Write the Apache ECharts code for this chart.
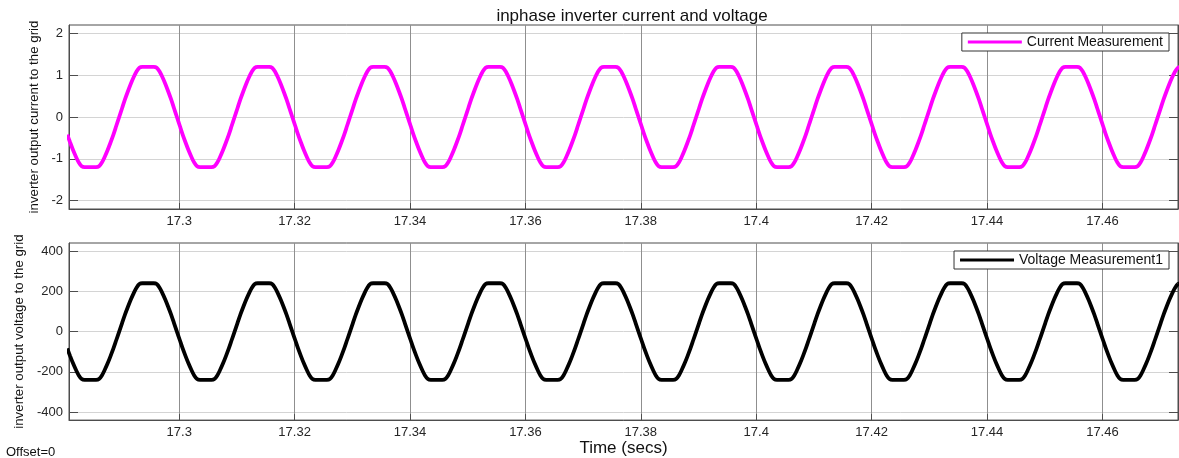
<!DOCTYPE html>
<html>
<head>
<meta charset="utf-8">
<script src="https://cdn.jsdelivr.net/npm/echarts@6/dist/echarts.min.js"></script>
<style>
html,body{margin:0;padding:0;background:#fff;}
#chart{width:1179px;height:458px;}
</style>
</head>
<body>
<div id="chart"></div>
<script>
// sampling grid of the read-off waveforms (seconds)
var T0 = 17.2806;
var DT = 0.0005;

// inverter output current (A), one value per sample
var currentValues = [
  -0.42, -0.61, -0.79, -0.95, -1.09, -1.18, -1.2, -1.2, -1.2, -1.2, -1.2, -1.18, -1.09, -0.95, -0.79, -0.61, -0.42, -0.21, 0, 0.21, 0.42, 0.61, 0.79, 0.95, 1.09, 1.18, 1.2, 1.2,
  1.2, 1.2, 1.2, 1.18, 1.09, 0.95, 0.79, 0.61, 0.42, 0.21, 0, -0.21, -0.42, -0.61, -0.79, -0.95, -1.09, -1.18, -1.2, -1.2, -1.2, -1.2, -1.2, -1.18, -1.09, -0.95, -0.79, -0.61, -0.42, -0.21, 0, 0.21, 0.42, 0.61, 0.79, 0.95, 1.09, 1.18, 1.2, 1.2,
  1.2, 1.2, 1.2, 1.18, 1.09, 0.95, 0.79, 0.61, 0.42, 0.21, 0, -0.21, -0.42, -0.61, -0.79, -0.95, -1.09, -1.18, -1.2, -1.2, -1.2, -1.2, -1.2, -1.18, -1.09, -0.95, -0.79, -0.61, -0.42, -0.21, 0, 0.21, 0.42, 0.61, 0.79, 0.95, 1.09, 1.18, 1.2, 1.2,
  1.2, 1.2, 1.2, 1.18, 1.09, 0.95, 0.79, 0.61, 0.42, 0.21, 0, -0.21, -0.42, -0.61, -0.79, -0.95, -1.09, -1.18, -1.2, -1.2, -1.2, -1.2, -1.2, -1.18, -1.09, -0.95, -0.79, -0.61, -0.42, -0.21, 0, 0.21, 0.42, 0.61, 0.79, 0.95, 1.09, 1.18, 1.2, 1.2,
  1.2, 1.2, 1.2, 1.18, 1.09, 0.95, 0.79, 0.61, 0.42, 0.21, 0, -0.21, -0.42, -0.61, -0.79, -0.95, -1.09, -1.18, -1.2, -1.2, -1.2, -1.2, -1.2, -1.18, -1.09, -0.95, -0.79, -0.61, -0.42, -0.21, 0, 0.21, 0.42, 0.61, 0.79, 0.95, 1.09, 1.18, 1.2, 1.2,
  1.2, 1.2, 1.2, 1.18, 1.09, 0.95, 0.79, 0.61, 0.42, 0.21, 0, -0.21, -0.42, -0.61, -0.79, -0.95, -1.09, -1.18, -1.2, -1.2, -1.2, -1.2, -1.2, -1.18, -1.09, -0.95, -0.79, -0.61, -0.42, -0.21, 0, 0.21, 0.42, 0.61, 0.79, 0.95, 1.09, 1.18, 1.2, 1.2,
  1.2, 1.2, 1.2, 1.18, 1.09, 0.95, 0.79, 0.61, 0.42, 0.21, 0, -0.21, -0.42, -0.61, -0.79, -0.95, -1.09, -1.18, -1.2, -1.2, -1.2, -1.2, -1.2, -1.18, -1.09, -0.95, -0.79, -0.61, -0.42, -0.21, 0, 0.21, 0.42, 0.61, 0.79, 0.95, 1.09, 1.18, 1.2, 1.2,
  1.2, 1.2, 1.2, 1.18, 1.09, 0.95, 0.79, 0.61, 0.42, 0.21, 0, -0.21, -0.42, -0.61, -0.79, -0.95, -1.09, -1.18, -1.2, -1.2, -1.2, -1.2, -1.2, -1.18, -1.09, -0.95, -0.79, -0.61, -0.42, -0.21, 0, 0.21, 0.42, 0.61, 0.79, 0.95, 1.09, 1.18, 1.2, 1.2,
  1.2, 1.2, 1.2, 1.18, 1.09, 0.95, 0.79, 0.61, 0.42, 0.21, 0, -0.21, -0.42, -0.61, -0.79, -0.95, -1.09, -1.18, -1.2, -1.2, -1.2, -1.2, -1.2, -1.18, -1.09, -0.95, -0.79, -0.61, -0.42, -0.21, 0, 0.21, 0.42, 0.61, 0.79, 0.95, 1.09, 1.18, 1.2, 1.2,
  1.2, 1.2, 1.2, 1.18, 1.09, 0.95, 0.79, 0.61, 0.42, 0.21, 0, -0.21, -0.42, -0.61, -0.79, -0.95, -1.09, -1.18, -1.2, -1.2, -1.2, -1.2, -1.2, -1.18, -1.09, -0.95, -0.79, -0.61, -0.42, -0.21, 0, 0.21, 0.42, 0.61, 0.79, 0.95, 1.09, 1.18, 1.2, 1.2
];

// inverter output voltage (V), one value per sample
var voltageValues = [
  -84, -122, -158, -190, -218, -236, -240, -240, -240, -240, -240, -236, -218, -190, -158, -122, -84, -42, 0, 42, 84, 122, 158, 190, 218, 236, 240, 240,
  240, 240, 240, 236, 218, 190, 158, 122, 84, 42, 0, -42, -84, -122, -158, -190, -218, -236, -240, -240, -240, -240, -240, -236, -218, -190, -158, -122, -84, -42, 0, 42, 84, 122, 158, 190, 218, 236, 240, 240,
  240, 240, 240, 236, 218, 190, 158, 122, 84, 42, 0, -42, -84, -122, -158, -190, -218, -236, -240, -240, -240, -240, -240, -236, -218, -190, -158, -122, -84, -42, 0, 42, 84, 122, 158, 190, 218, 236, 240, 240,
  240, 240, 240, 236, 218, 190, 158, 122, 84, 42, 0, -42, -84, -122, -158, -190, -218, -236, -240, -240, -240, -240, -240, -236, -218, -190, -158, -122, -84, -42, 0, 42, 84, 122, 158, 190, 218, 236, 240, 240,
  240, 240, 240, 236, 218, 190, 158, 122, 84, 42, 0, -42, -84, -122, -158, -190, -218, -236, -240, -240, -240, -240, -240, -236, -218, -190, -158, -122, -84, -42, 0, 42, 84, 122, 158, 190, 218, 236, 240, 240,
  240, 240, 240, 236, 218, 190, 158, 122, 84, 42, 0, -42, -84, -122, -158, -190, -218, -236, -240, -240, -240, -240, -240, -236, -218, -190, -158, -122, -84, -42, 0, 42, 84, 122, 158, 190, 218, 236, 240, 240,
  240, 240, 240, 236, 218, 190, 158, 122, 84, 42, 0, -42, -84, -122, -158, -190, -218, -236, -240, -240, -240, -240, -240, -236, -218, -190, -158, -122, -84, -42, 0, 42, 84, 122, 158, 190, 218, 236, 240, 240,
  240, 240, 240, 236, 218, 190, 158, 122, 84, 42, 0, -42, -84, -122, -158, -190, -218, -236, -240, -240, -240, -240, -240, -236, -218, -190, -158, -122, -84, -42, 0, 42, 84, 122, 158, 190, 218, 236, 240, 240,
  240, 240, 240, 236, 218, 190, 158, 122, 84, 42, 0, -42, -84, -122, -158, -190, -218, -236, -240, -240, -240, -240, -240, -236, -218, -190, -158, -122, -84, -42, 0, 42, 84, 122, 158, 190, 218, 236, 240, 240,
  240, 240, 240, 236, 218, 190, 158, 122, 84, 42, 0, -42, -84, -122, -158, -190, -218, -236, -240, -240, -240, -240, -240, -236, -218, -190, -158, -122, -84, -42, 0, 42, 84, 122, 158, 190, 218, 236, 240, 240
];

var xTicks = [17.3, 17.32, 17.34, 17.36, 17.38, 17.4, 17.42, 17.44, 17.46];
var currentTicks = [-2, -1, 0, 1, 2];
var voltageTicks = [-400, -200, 0, 200, 400];

var X_MIN = 17.2809, X_MAX = 17.4731;
var I_MIN = -2.2, I_MAX = 2.2;
var V_MIN = -440, V_MAX = 440;

var seriesNames = ['Current Measurement', 'Voltage Measurement1'];
var seriesColors = ['#ff00ff', '#000000'];
var titleText = 'inphase inverter current and voltage';
var yNames = ['inverter output current to the grid', 'inverter output voltage to the grid'];
var xName = 'Time (secs)';

function toPairs(vals) {
  return vals.map(function (v, i) { return [T0 + i * DT, v]; });
}

var TXT = '#262626';
var AX = '#4d4d4d';
var VGRID = '#8f8f8f';
var HGRID = '#d4d4d4';
var FONT = 'Liberation Sans, Arial, sans-serif';

function xAxisCfg(gi, withName) {
  var a = {
    gridIndex: gi, type: 'value', min: X_MIN, max: X_MAX, position: 'bottom',
    axisLine: { show: true, onZero: false, lineStyle: { color: AX, width: 1 } },
    axisTick: { show: true, inside: true, length: 6, customValues: xTicks, lineStyle: { color: AX } },
    axisLabel: { customValues: xTicks, color: TXT, fontSize: 13, fontFamily: FONT, margin: 6,
      formatter: function (v) { return String(parseFloat(Number(v).toFixed(2))); } },
    splitLine: { show: true, lineStyle: { color: VGRID, width: 1 } }
  };
  if (withName) {
    a.name = xName; a.nameLocation = 'middle'; a.nameGap = 19;
    a.nameTextStyle = { color: '#111', fontSize: 17, fontFamily: FONT };
  }
  return a;
}

function yAxisCfg(gi, mn, mx, ticks, name, gap) {
  return {
    gridIndex: gi, type: 'value', min: mn, max: mx, position: 'left',
    name: name, nameLocation: 'middle', nameGap: gap,
    nameTextStyle: { color: '#111', fontSize: 13.3, fontFamily: FONT },
    axisLine: { show: true, onZero: false, lineStyle: { color: AX, width: 1 } },
    axisTick: { show: true, inside: true, length: 9, customValues: ticks, lineStyle: { color: AX } },
    axisLabel: { customValues: ticks, color: TXT, fontSize: 13, fontFamily: FONT, margin: 6 },
    splitLine: { show: true, lineStyle: { color: HGRID, width: 1 } }
  };
}

function yRightCfg(gi, mn, mx, ticks) {
  return {
    gridIndex: gi, type: 'value', min: mn, max: mx, position: 'right',
    axisLine: { show: true, onZero: false, lineStyle: { color: AX, width: 1 } },
    axisTick: { show: true, inside: true, length: 9, customValues: ticks, lineStyle: { color: AX } },
    axisLabel: { show: false },
    splitLine: { show: false }
  };
}

function legendCfg(i, top) {
  return {
    data: [{ name: seriesNames[i], icon: 'rect', itemStyle: { color: seriesColors[i] } }],
    right: 10, top: top, itemWidth: 54, itemHeight: 3, itemGap: 4, padding: [2, 6, 2, 6],
    borderColor: '#333', borderWidth: 1, borderRadius: 0, backgroundColor: '#fff',
    textStyle: { color: '#111', fontSize: 14, fontFamily: FONT }
  };
}

var chart = echarts.init(document.getElementById('chart'), null, { renderer: 'canvas' });
chart.setOption({
  animation: false,
  backgroundColor: '#fff',
  title: {
    text: titleText, left: 627, top: 3, textAlign: 'center',
    textStyle: { color: '#111', fontSize: 17, fontWeight: 'normal', fontFamily: FONT }
  },
  grid: [
    { left: 69, right: 1, top: 25, height: 184, show: true, borderColor: AX, borderWidth: 1, backgroundColor: '#fff' },
    { left: 69, right: 1, top: 243, height: 178, show: true, borderColor: AX, borderWidth: 1, backgroundColor: '#fff' }
  ],
  legend: [ legendCfg(0, 33), legendCfg(1, 251) ],
  xAxis: [ xAxisCfg(0, false), xAxisCfg(1, true) ],
  yAxis: [
    yAxisCfg(0, I_MIN, I_MAX, currentTicks, yNames[0], 26),
    yRightCfg(0, I_MIN, I_MAX, currentTicks),
    yAxisCfg(1, V_MIN, V_MAX, voltageTicks, yNames[1], 41),
    yRightCfg(1, V_MIN, V_MAX, voltageTicks)
  ],
  graphic: [
    { type: 'text', left: 6, top: 446, style: { text: 'Offset=0', fill: '#111', fontSize: 13, fontFamily: FONT } }
  ],
  series: [
    { name: seriesNames[0], type: 'line', xAxisIndex: 0, yAxisIndex: 0, data: toPairs(currentValues),
      symbol: 'none', smooth: 0.3, lineStyle: { color: seriesColors[0], width: 3.8 }, itemStyle: { color: seriesColors[0] } },
    { name: seriesNames[1], type: 'line', xAxisIndex: 1, yAxisIndex: 2, data: toPairs(voltageValues),
      symbol: 'none', smooth: 0.3, lineStyle: { color: seriesColors[1], width: 3.8 }, itemStyle: { color: seriesColors[1] } }
  ]
});
</script>
</body>
</html>
